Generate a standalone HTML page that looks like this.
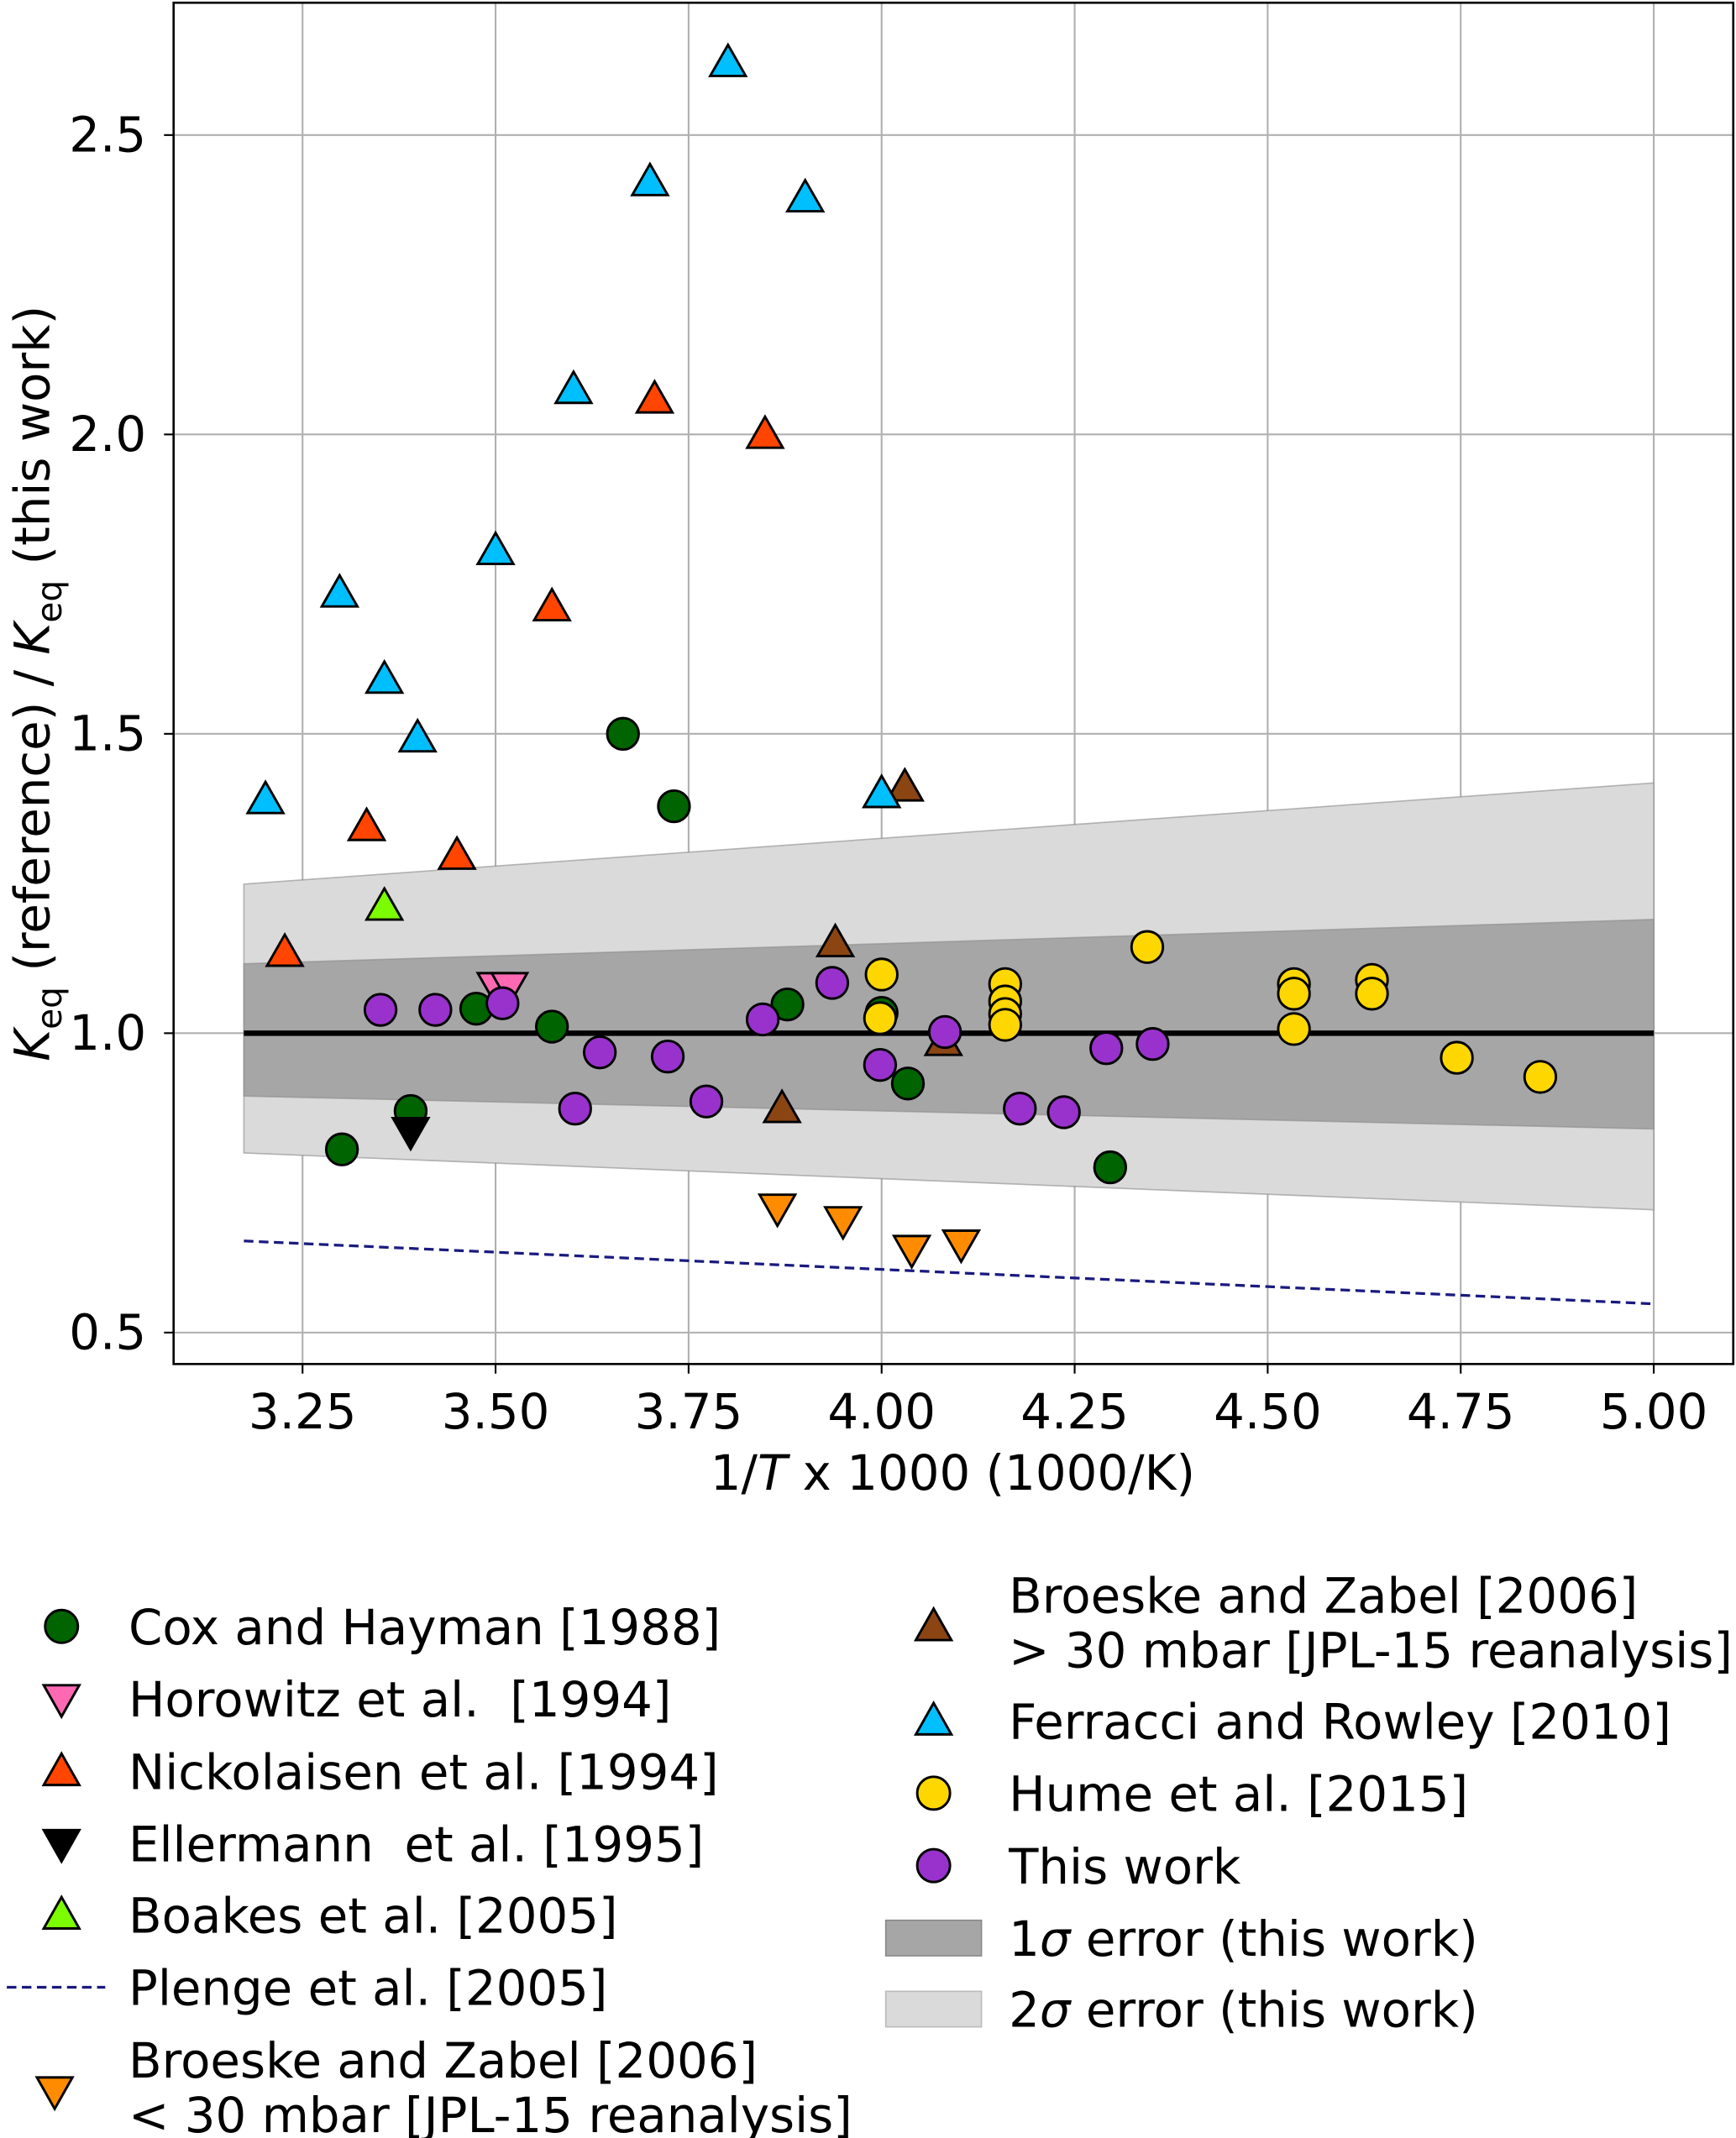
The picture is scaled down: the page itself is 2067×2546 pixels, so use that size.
<!DOCTYPE html>
<html><head><meta charset="utf-8"><style>
html,body{margin:0;padding:0;background:#fff}
svg{display:block;font-family:"DejaVu Sans","Liberation Sans",sans-serif}
</style></head><body>
<svg id="chart" width="2067" height="2546" viewBox="0 0 1270 1564.3" preserveAspectRatio="none" xmlns="http://www.w3.org/2000/svg"></svg>
<script>
const xTicks=[3.25,3.5,3.75,4.0,4.25,4.5,4.75,5.0];
const xTickLabels=["3.25","3.50","3.75","4.00","4.25","4.50","4.75","5.00"];
const yTicks=[0.5,1.0,1.5,2.0,2.5];
const yTickLabels=["0.5","1.0","1.5","2.0","2.5"];
const coxX=[3.301,3.390,3.475,3.573,3.665,3.731,3.878,4.034,4.296,4.0];
const coxY=[0.806,0.870,1.041,1.011,1.5,1.379,1.048,0.916,0.776,1.034];
const horoX=[3.50,3.518];
const horoY=[1.078,1.078];
const nickX=[3.227,3.333,3.450,3.573,3.706,3.849];
const nickY=[1.135,1.345,1.297,1.712,2.059,2.0];
const ellX=[3.390];
const ellY=[0.836];
const boakesX=[3.356];
const boakesY=[1.212];
const brLowX=[3.865,3.950,4.039,4.103];
const brLowY=[0.708,0.687,0.639,0.648];
const brHighX=[3.940,4.030,3.871,4.080];
const brHighY=[1.151,1.411,0.874,0.986];
const ferX=[3.202,3.298,3.356,3.399,3.50,3.601,3.700,3.801,3.901,4.0];
const ferY=[1.390,1.735,1.591,1.493,1.806,2.075,2.422,2.621,2.395,1.4];
const humeX=[4.0,3.998,4.16,4.16,4.16,4.16,4.344,4.534,4.534,4.534,4.635,4.635,4.745,4.853];
const humeY=[1.098,1.025,1.082,1.053,1.032,1.014,1.144,1.082,1.066,1.007,1.089,1.066,0.959,0.927];
const workX=[3.351,3.422,3.509,3.603,3.635,3.723,3.773,3.846,3.936,3.998,4.082,4.179,4.236,4.291,4.351];
const workY=[1.039,1.039,1.050,0.874,0.968,0.961,0.886,1.023,1.084,0.947,1.002,0.874,0.868,0.975,0.982];
const bandX=[3.174,5.0];
const s1Upper=[1.116,1.19];
const s1Lower=[0.895,0.84];
const s2Upper=[1.249,1.418];
const s2Lower=[0.80,0.705];
const plengeX=[3.174,5.0];
const plengeY=[0.653,0.548];

const L=127,R=1268,T=2,B=998;
const X0=3.083,X1=5.103,Y0=0.4475,Y1=2.721;
const sx=v=>L+(v-X0)/(X1-X0)*(R-L);
const sy=v=>B-(v-Y0)/(Y1-Y0)*(B-T);
const svg=document.getElementById('chart');
const NS="http://www.w3.org/2000/svg";
function mk(tag,attrs,parent){const e=document.createElementNS(NS,tag);for(const k in attrs)e.setAttribute(k,attrs[k]);(parent||svg).appendChild(e);return e;}

xTicks.forEach((t,i)=>{
  const g=mk('line',{x1:sx(t),x2:sx(t),y1:T,y2:B,stroke:'#b0b0b0','stroke-width':1.3});
  
  
  mk('line',{x1:sx(t),x2:sx(t),y1:B,y2:B+7,stroke:'#000','stroke-width':1.3});
  const tx=mk('text',{x:sx(t),y:1045,'font-size':35.5,'text-anchor':'middle'});
  tx.textContent=xTickLabels[i];
  
  
});
yTicks.forEach((t,i)=>{
  const g=mk('line',{x1:L,x2:R,y1:sy(t),y2:sy(t),stroke:'#b0b0b0','stroke-width':1.3});
  
  
  mk('line',{x1:L-7,x2:L,y1:sy(t),y2:sy(t),stroke:'#000','stroke-width':1.3});
  const tx=mk('text',{x:L-20,y:sy(t)+12,'font-size':35.5,'text-anchor':'end'});
  tx.textContent=yTickLabels[i];
  
  
});

function band(up,lo,fill,name){
  const p=`${sx(bandX[0])},${sy(up[0])} ${sx(bandX[1])},${sy(up[1])} ${sx(bandX[1])},${sy(lo[1])} ${sx(bandX[0])},${sy(lo[0])}`;
  const e=mk('polygon',{points:p,fill:fill,stroke:'#8a8a8a','stroke-width':1,'stroke-opacity':0.6});
  
  
}
band(s2Upper,s2Lower,'#dadada','two-sigma-band');
band(s1Upper,s1Lower,'#a6a6a6','one-sigma-band');
const ref=mk('line',{x1:sx(bandX[0]),x2:sx(bandX[1]),y1:sy(1),y2:sy(1),stroke:'#000','stroke-width':4});


const pl=mk('line',{x1:sx(plengeX[0]),x2:sx(plengeX[1]),y1:sy(plengeY[0]),y2:sy(plengeY[1]),stroke:'#1a1a80','stroke-width':2,'stroke-dasharray':'7,4'});



function marker(type,cx,cy,fill,parent){
  const r=11.5;
  if(type==='o') return mk('circle',{cx,cy,r,fill,stroke:'#000','stroke-width':1.8},parent);
  const h=13;
  const pts=type==='^'?`${cx},${cy-h} ${cx+h},${cy+h*0.75} ${cx-h},${cy+h*0.75}`:`${cx},${cy+h} ${cx+h},${cy-h*0.75} ${cx-h},${cy-h*0.75}`;
  return mk('polygon',{points:pts,fill,stroke:'#000','stroke-width':1.8,'stroke-linejoin':'miter'},parent);
}
function series(xs,ys,type,fill,name){
  const g=mk('g',{});
  
  
  xs.forEach((x,i)=>{
    const m=marker(type,sx(x),sy(ys[i]),fill,g);
    
    
  });
}
series(coxX,coxY,'o','#006400','cox-hayman-series');
series(horoX,horoY,'v','#ff69b4','horowitz-series');
series(nickX,nickY,'^','#ff4500','nickolaisen-series');
series(ellX,ellY,'v','#000000','ellermann-series');
series(boakesX,boakesY,'^','#7cfc00','boakes-series');
series(brLowX,brLowY,'v','#ff8c00','broeske-low-series');
series(brHighX,brHighY,'^','#8b4513','broeske-high-series');
series(ferX,ferY,'^','#00bfff','ferracci-series');
series(humeX,humeY,'o','#ffd700','hume-series');
series(workX,workY,'o','#9932cc','this-work-series');

const fr=mk('rect',{x:L,y:T,width:R-L,height:B-T,fill:'none',stroke:'#000','stroke-width':1.6});


</script>
<svg style="position:absolute;left:0;top:0" width="2067" height="2546" viewBox="0 0 1270 1564.3" preserveAspectRatio="none" xmlns="http://www.w3.org/2000/svg" font-family="DejaVu Sans, Liberation Sans, sans-serif">
<text x="697" y="1090" font-size="35.5" text-anchor="middle">1/<tspan font-style="italic">T</tspan> x 1000 (1000/K)</text>
<text transform="translate(36,500) rotate(-90)" font-size="35.5" text-anchor="middle"><tspan font-style="italic">K</tspan><tspan font-size="25" dy="9">eq</tspan><tspan dy="-9"> (reference) / </tspan><tspan font-style="italic">K</tspan><tspan font-size="25" dy="9">eq</tspan><tspan dy="-9"> (this work)</tspan></text>
<g font-size="35.5">
<g><circle cx="45" cy="1190" r="12" fill="#006400" stroke="#000" stroke-width="1.8"/><text x="94" y="1203">Cox and Hayman [1988]</text></g>
<g><polygon points="45,1256 58,1233 32,1233" fill="#ff69b4" stroke="#000" stroke-width="1.8"/><text x="94" y="1256">Horowitz et al.&#160; [1994]</text></g>
<g><polygon points="45,1283 58,1306 32,1306" fill="#ff4500" stroke="#000" stroke-width="1.8"/><text x="94" y="1309">Nickolaisen et al. [1994]</text></g>
<g><polygon points="45,1362 58,1339 32,1339" fill="#000" stroke="#000" stroke-width="1.8"/><text x="94" y="1362">Ellermann&#160; et al. [1995]</text></g>
<g><polygon points="45,1388 58,1411 32,1411" fill="#7cfc00" stroke="#000" stroke-width="1.8"/><text x="94" y="1414">Boakes et al. [2005]</text></g>
<g><line x1="5" x2="77" y1="1454" y2="1454" stroke="#1a1a80" stroke-width="2" stroke-dasharray="7,4"/><text x="94" y="1467">Plenge et al. [2005]</text></g>
<g><polygon points="40,1543 53,1520 27,1520" fill="#ff8c00" stroke="#000" stroke-width="1.8"/><text x="94" y="1520">Broeske and Zabel [2006]</text><text x="94" y="1560">&lt; 30 mbar [JPL-15 reanalysis]</text></g>
<g><polygon points="683,1177 696,1200 670,1200" fill="#8b4513" stroke="#000" stroke-width="1.8"/><text x="738" y="1180">Broeske and Zabel [2006]</text><text x="738" y="1220">&gt; 30 mbar [JPL-15 reanalysis]</text></g>
<g><polygon points="683,1246 696,1269 670,1269" fill="#00bfff" stroke="#000" stroke-width="1.8"/><text x="738" y="1272">Ferracci and Rowley [2010]</text></g>
<g><circle cx="683" cy="1312" r="12" fill="#ffd700" stroke="#000" stroke-width="1.8"/><text x="738" y="1325">Hume et al. [2015]</text></g>
<g><circle cx="683" cy="1365" r="12" fill="#9932cc" stroke="#000" stroke-width="1.8"/><text x="738" y="1378">This work</text></g>
<g><rect x="648" y="1405" width="70" height="26" fill="#a6a6a6" stroke="#8a8a8a"/><text x="738" y="1431">1<tspan font-style="italic">σ</tspan> error (this work)</text></g>
<g><rect x="648" y="1457" width="70" height="26" fill="#dadada" stroke="#bbb"/><text x="738" y="1483">2<tspan font-style="italic">σ</tspan> error (this work)</text></g>
</g>
</svg>
</body></html>
